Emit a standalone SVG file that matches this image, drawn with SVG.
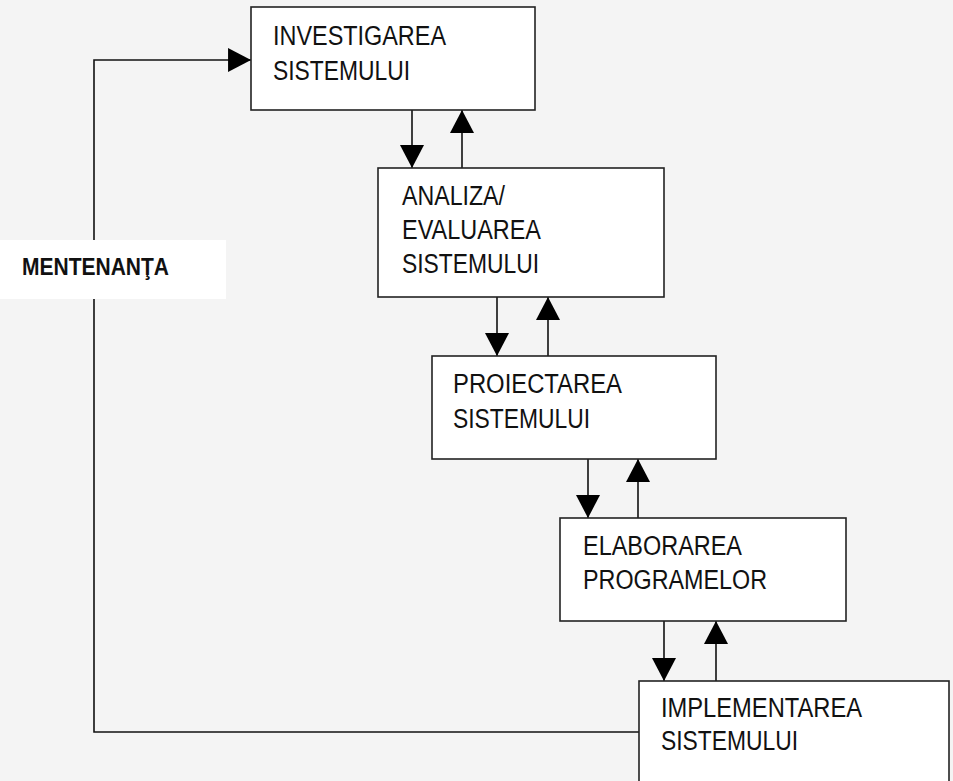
<svg xmlns="http://www.w3.org/2000/svg" width="953" height="781" viewBox="0 0 953 781">
<defs>
<marker id="ah" markerUnits="userSpaceOnUse" markerWidth="24" markerHeight="24" viewBox="0 0 22 23" refX="22" refY="11.5" orient="auto">
<path d="M0,0 L22,11.5 L0,23 Z" fill="#000"/>
</marker>
</defs>
<style>
.box{fill:#fff;stroke:#222;stroke-width:1.6}
.t{font-family:"Liberation Sans",Arial,sans-serif;font-size:27px;fill:#111}
.c{fill:none;stroke:#111;stroke-width:1.6;marker-end:url(#ah)}
.lbl{font-family:"Liberation Sans",Arial,sans-serif;font-size:24px;font-weight:bold;fill:#111}
</style>
<rect width="953" height="781" fill="#f4f4f4"/>
<g id="connectors">
<path class="c" d="M412,110 V168"/>
<path class="c" d="M462,168 V110"/>
<path class="c" d="M497,297 V356"/>
<path class="c" d="M548,356 V297"/>
<path class="c" d="M588,459 V518"/>
<path class="c" d="M638,518 V459"/>
<path class="c" d="M664,621 V681"/>
<path class="c" d="M716,681 V621"/>
<path class="c" d="M639,732 H94 V60 H251"/>
</g>
<g id="label-mentenanta">
<rect x="0" y="240" width="226" height="59" fill="#fff"/>
<text class="lbl" x="22" y="275" textLength="147" lengthAdjust="spacingAndGlyphs">MENTENANŢA</text>
</g>
<g id="investigarea">
<rect class="box" x="251" y="7" width="284" height="103"/>
<text class="t" x="273" y="45" textLength="173" lengthAdjust="spacingAndGlyphs">INVESTIGAREA</text>
<text class="t" x="273" y="80" textLength="137" lengthAdjust="spacingAndGlyphs">SISTEMULUI</text>
</g>
<g id="analiza">
<rect class="box" x="378" y="168" width="286" height="129"/>
<text class="t" x="402" y="205" textLength="103" lengthAdjust="spacingAndGlyphs">ANALIZA/</text>
<text class="t" x="402" y="239" textLength="139" lengthAdjust="spacingAndGlyphs">EVALUAREA</text>
<text class="t" x="402" y="273" textLength="137" lengthAdjust="spacingAndGlyphs">SISTEMULUI</text>
</g>
<g id="proiectarea">
<rect class="box" x="432" y="356" width="284" height="103"/>
<text class="t" x="453" y="393" textLength="169" lengthAdjust="spacingAndGlyphs">PROIECTAREA</text>
<text class="t" x="453" y="428" textLength="137" lengthAdjust="spacingAndGlyphs">SISTEMULUI</text>
</g>
<g id="elaborarea">
<rect class="box" x="560" y="518" width="286" height="103"/>
<text class="t" x="583" y="555" textLength="159" lengthAdjust="spacingAndGlyphs">ELABORAREA</text>
<text class="t" x="583" y="589" textLength="184" lengthAdjust="spacingAndGlyphs">PROGRAMELOR</text>
</g>
<g id="implementarea">
<rect class="box" x="639" y="681" width="310" height="110"/>
<text class="t" x="661" y="717" textLength="201" lengthAdjust="spacingAndGlyphs">IMPLEMENTAREA</text>
<text class="t" x="661" y="750" textLength="137" lengthAdjust="spacingAndGlyphs">SISTEMULUI</text>
</g>
</svg>
